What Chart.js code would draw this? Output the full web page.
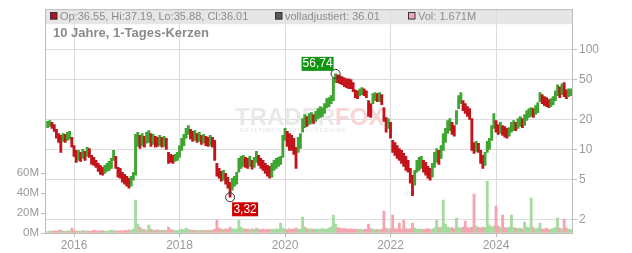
<!DOCTYPE html>
<html>
<head>
<meta charset="utf-8">
<script src="https://cdn.jsdelivr.net/npm/chart.js@4.4.1/dist/chart.umd.min.js"></script>
<style>
  html, body { margin: 0; padding: 0; background: #fff; }
</style>
</head>
<body>
<canvas id="chart" width="632" height="253"></canvas>
<script>
// half-month periods starting July 2015
const startYear = 2015.5;
const periodsPerYear = 24;

const priceHi = [
  19.0, 19.4, 18.6, 17.7, 15.8, 14.4, 13.8, 14.4, 14.1, 14.8,
  15.1, 13.2, 10.9, 9.76, 9.76, 9.33, 10.0, 9.54, 10.5, 10.2,
  8.70, 8.31, 7.76, 7.25, 6.92, 6.61, 6.92, 7.25, 7.59, 8.13,
  9.76, 8.51, 6.61, 6.46, 5.90, 5.63, 5.38, 5.14, 5.38, 5.90,
  14.1, 14.8, 13.8, 14.4, 13.5, 14.8, 15.4, 14.4, 14.1, 13.5,
  13.2, 13.8, 13.2, 13.5, 12.9, 9.33, 8.91, 8.70, 8.91, 9.33,
  10.9, 12.9, 14.1, 16.2, 17.3, 15.8, 15.1, 15.4, 14.4, 14.8,
  13.8, 14.1, 13.5, 13.2, 13.8, 13.2, 12.3, 7.25, 6.46, 6.03,
  6.17, 5.76, 5.26, 4.69, 5.14, 5.38, 5.90, 8.13, 8.51, 8.70,
  8.31, 8.13, 8.51, 7.76, 8.31, 9.54, 8.70, 8.13, 7.76, 7.25,
  6.92, 6.77, 7.25, 7.76, 8.13, 8.31, 8.51, 13.8, 16.2, 15.1,
  14.4, 13.8, 12.9, 10.5, 13.2, 14.4, 20.3, 22.3, 21.3, 22.8,
  23.3, 22.3, 23.9, 25.5, 26.7, 26.1, 28.6, 32.1, 32.8, 34.4,
  51.9, 56.74, 55.6, 54.3, 53.1, 51.9, 50.7, 50.7, 49.6, 46.3,
  39.4, 38.5, 40.3, 41.3, 40.3, 38.5, 30.6, 28.6, 36.0, 36.8,
  36.0, 36.8, 35.2, 26.1, 20.8, 20.3, 18.6, 12.3, 11.7, 10.9,
  10.2, 9.76, 9.11, 8.51, 7.76, 6.46, 5.51, 6.17, 7.76, 8.31,
  8.51, 7.76, 7.41, 6.77, 6.46, 7.25, 9.33, 10.2, 9.76, 10.9,
  14.4, 16.2, 19.4, 20.3, 18.6, 17.3, 24.4, 34.4, 36.8, 30.6,
  28.6, 26.7, 25.5, 20.3, 11.7, 12.0, 11.5, 9.76, 8.70, 9.33,
  12.0, 12.9, 17.3, 22.8, 19.4, 17.7, 18.6, 17.3, 16.9, 16.2,
  16.5, 18.6, 19.4, 18.6, 20.3, 21.3, 20.3, 22.3, 24.4, 25.5,
  26.1, 25.5, 27.3, 29.3, 36.8, 35.2, 33.6, 32.8, 31.4, 32.1,
  33.6, 38.5, 44.2, 42.2, 45.2, 46.3, 39.4, 40.3, 40.3
];

const priceLo = [
  16.5, 16.9, 16.2, 15.1, 12.9, 11.7, 9.33, 12.0, 11.7, 12.3,
  12.6, 10.5, 8.51, 7.41, 7.76, 7.59, 8.13, 7.76, 8.51, 8.31,
  7.08, 6.92, 6.61, 6.03, 5.63, 5.51, 5.76, 6.03, 6.17, 6.46,
  7.76, 6.46, 5.26, 5.14, 4.69, 4.48, 4.28, 4.09, 4.28, 4.91,
  5.51, 10.7, 10.2, 10.9, 10.5, 11.5, 11.7, 10.7, 11.2, 10.5,
  10.7, 10.9, 10.5, 10.7, 10.0, 7.25, 7.41, 7.25, 7.59, 7.76,
  8.31, 9.76, 10.9, 12.9, 14.1, 12.6, 12.0, 12.3, 11.7, 12.0,
  11.2, 11.5, 10.9, 10.7, 10.9, 10.5, 7.76, 5.38, 5.14, 4.80,
  4.91, 4.48, 4.09, 3.32, 3.91, 4.28, 4.48, 5.90, 6.46, 6.77,
  6.61, 6.46, 6.77, 6.32, 6.61, 7.41, 6.92, 6.46, 6.17, 5.76,
  5.38, 5.14, 5.26, 6.17, 6.46, 6.77, 7.08, 8.31, 12.3, 10.7,
  9.76, 9.76, 8.91, 6.46, 9.33, 10.2, 14.8, 16.5, 16.9, 17.7,
  18.1, 18.1, 19.0, 20.3, 20.8, 21.3, 22.8, 26.1, 26.7, 28.6,
  30.6, 46.3, 46.3, 45.2, 44.2, 42.2, 41.3, 40.3, 40.3, 37.7,
  32.8, 32.1, 34.4, 35.2, 34.4, 32.8, 21.3, 20.8, 28.6, 30.6,
  30.0, 30.0, 28.0, 19.0, 14.8, 16.2, 12.9, 9.33, 8.70, 8.13,
  7.76, 7.25, 6.77, 6.17, 5.90, 4.58, 3.45, 4.38, 5.90, 6.17,
  6.46, 5.90, 5.51, 5.14, 4.91, 5.26, 6.61, 7.41, 7.08, 8.13,
  9.76, 11.7, 14.4, 15.4, 14.1, 13.5, 17.7, 25.5, 28.6, 24.4,
  22.8, 21.3, 19.9, 9.76, 9.11, 9.54, 9.33, 7.25, 6.46, 6.92,
  9.33, 10.0, 12.3, 16.2, 14.8, 14.1, 14.4, 13.8, 13.2, 12.9,
  13.5, 14.8, 15.4, 15.4, 16.2, 16.9, 16.5, 17.3, 19.4, 20.8,
  21.3, 20.8, 22.3, 23.3, 30.0, 28.6, 27.3, 26.7, 26.1, 26.7,
  28.0, 30.6, 34.4, 32.8, 35.2, 33.6, 32.1, 33.6, 34.4
];

// volume in millions
const volumes = [
  1.5, 2, 1.8, 2.2, 1.6, 2.4, 3, 2, 1.7, 2.1,
  1.9, 5, 2.3, 1.8, 2, 1.6, 2.5, 1.9, 2.2, 1.7,
  2, 2.8, 1.9, 2.1, 1.8, 2.4, 2, 1.7, 2.2, 3,
  2.5, 2.1, 1.9, 2.3, 2, 2.6, 2.2, 3.1, 2.5, 4,
  33, 9, 6, 4, 3.5, 3, 8, 4, 3, 2.6,
  3.2, 2.8, 2.5, 3, 2.4, 6, 3.5, 3, 2.6, 2.4,
  3, 4, 3.2, 5, 3.6, 2.8, 2.6, 3, 2.4, 2.7,
  2.3, 2.8, 2.5, 3, 2.6, 2.9, 4, 13, 5, 4,
  3.5, 4.2, 3.6, 6, 4.5, 3.8, 4, 13, 6, 4.5,
  3.8, 4, 3.5, 4.2, 3.6, 5, 4, 3.4, 3.8, 3.2,
  4, 3.5, 3.8, 3.3, 4.2, 3.6, 10, 5, 4, 3.6,
  4.2, 3.6, 4, 5, 3.8, 4, 16, 6, 4.5, 3.8,
  4.2, 3.6, 4, 3.5, 3.8, 4.5, 3.6, 4, 5, 6,
  18, 9, 5.5, 4.8, 4.2, 4.6, 4, 3.8, 4.2, 3.6,
  4, 3.4, 3.8, 3.2, 3.6, 4, 9, 4.5, 3.8, 3.4,
  3.6, 3.2, 4, 22, 5, 4, 4.5, 18, 4.5, 4,
  10, 4, 13, 4.5, 3.8, 4.5, 10, 5, 4, 3.6,
  4, 3.4, 3.8, 4.5, 3.5, 4, 5, 13, 5.5, 6,
  33, 9, 6, 4.8, 5.5, 4.5, 15, 5.5, 5, 6,
  12, 5.5, 5, 6, 39, 7, 5.5, 5, 6, 5.5,
  52, 8, 6, 7, 27, 7, 5.5, 18, 5.5, 5,
  6, 18, 5.5, 5, 4.5, 5, 4, 11, 6, 5.5,
  35, 5.5, 4, 5, 10, 4, 3.8, 5, 3.5, 4,
  4.5, 5.5, 15, 5, 4, 14, 5, 4, 3.5
];

const yearTicks = [2016, 2018, 2020, 2022, 2024];
const priceTicks = [2, 5, 10, 20, 50, 100];
const volTicks = [0, 20, 40, 60];

const FONT = '"Liberation Sans", Arial, sans-serif';
const cUp = '#3ea531';
const cDown = '#c3141b';
const cVolUp = '#a6dba0';
const cVolDown = '#f3a6ae';
const cGrid = '#dcdcdc';
const cAxis = '#bdbdbd';
const cTick = '#9a9a9a';

const xs = priceHi.map((_, i) => startYear + i / periodsPerYear);
const mids = priceHi.map((h, i) => Math.sqrt(h * priceLo[i]));
const up = mids.map((m, i) => i === 0 || m >= mids[i - 1]);

Chart.defaults.font.family = FONT;

const fmt = v => v.toFixed(2).replace('.', ',');

const frame = {
	id: 'frame',
	beforeDraw(chart) {
		const { ctx, chartArea: a } = chart;
		ctx.save();
		ctx.fillStyle = '#fff';
		ctx.fillRect(0, 0, chart.width, chart.height);
		ctx.fillStyle = '#e6e6e6';
		ctx.fillRect(a.left, a.top, a.right - a.left, 15);
		ctx.restore();
	},
	beforeDatasetsDraw(chart) {
		// faint watermark
		const { ctx } = chart;
		ctx.save();
		ctx.font = 'bold 24px ' + FONT;
		ctx.textBaseline = 'alphabetic';
		ctx.fillStyle = '#e9e9e9';
		ctx.fillText('TRADER', 235, 125);
		const w = ctx.measureText('TRADER').width;
		ctx.fillStyle = '#f9d6d6';
		ctx.fillText('FOX', 235 + w, 125);
		ctx.font = 'bold 5.5px ' + FONT;
		ctx.letterSpacing = '1px';
		ctx.fillStyle = '#ececec';
		ctx.fillText('REALTIME STOCK SCREENING', 240, 132);
		ctx.restore();
	},
	afterDraw(chart) {
		const { ctx, chartArea: a, scales } = chart;
		ctx.save();
		ctx.strokeStyle = cAxis;
		ctx.lineWidth = 1;
		ctx.beginPath();
		ctx.moveTo(a.left, a.top + 0.5);
		ctx.lineTo(a.right, a.top + 0.5);
		ctx.stroke();

		// header line
		ctx.font = '11px ' + FONT;
		ctx.textBaseline = 'middle';
		const items = [
			{ x: 50, fill: '#b5121b', text: 'Op:36.55, Hi:37.19, Lo:35.88, Cl:36.01' },
			{ x: 275, fill: '#5a5a5a', text: 'volladjustiert: 36.01' },
			{ x: 408, fill: '#f2a7b0', text: 'Vol: 1.671M' }
		];
		items.forEach(it => {
			ctx.fillStyle = it.fill;
			ctx.fillRect(it.x, 12.5, 7, 7);
			ctx.strokeStyle = '#333';
			ctx.strokeRect(it.x + 0.5, 12.5, 6.5, 6.5);
			ctx.fillStyle = '#8c8c8c';
			ctx.fillText(it.text, it.x + 10, 16.5);
		});

		ctx.font = 'bold 13px ' + FONT;
		ctx.fillStyle = '#8a8a8a';
		ctx.fillText('10 Jahre, 1-Tages-Kerzen', 53, 33.5);

		// high / low markers
		const iMax = priceHi.indexOf(Math.max(...priceHi));
		const iMin = priceLo.indexOf(Math.min(...priceLo));
		const hx = scales.x.getPixelForValue(xs[iMax]);
		const hy = scales.y.getPixelForValue(priceHi[iMax]);
		const lx = scales.x.getPixelForValue(xs[iMin]);
		const ly = scales.y.getPixelForValue(priceLo[iMin]);

		ctx.strokeStyle = '#333';
		ctx.lineWidth = 1;
		ctx.beginPath(); ctx.arc(hx, hy, 4.5, 0, 2 * Math.PI); ctx.stroke();
		ctx.beginPath(); ctx.arc(lx, ly, 4.5, 0, 2 * Math.PI); ctx.stroke();

		ctx.font = '12px ' + FONT;
		ctx.textAlign = 'center';
		ctx.fillStyle = '#109410';
		ctx.fillRect(hx - 34, hy - 17, 32, 14);
		ctx.fillStyle = '#fff';
		ctx.fillText(fmt(priceHi[iMax]), hx - 18, hy - 10);

		ctx.fillStyle = '#d10000';
		ctx.fillRect(lx + 2, ly + 5, 26, 14);
		ctx.fillStyle = '#fff';
		ctx.fillText(fmt(priceLo[iMin]), lx + 15, ly + 12);
		ctx.restore();
	}
};

new Chart(document.getElementById('chart'), {
	type: 'bar',
	data: {
		datasets: [
			{
				data: xs.map((x, i) => ({ x, y: [priceLo[i], priceHi[i]] })),
				yAxisID: 'y',
				backgroundColor: up.map(u => u ? cUp : cDown),
				borderWidth: 0,
				barPercentage: 1,
				categoryPercentage: 1,
				grouped: false,
				order: 1
			},
			{
				data: xs.map((x, i) => ({ x, y: volumes[i] })),
				yAxisID: 'yv',
				backgroundColor: up.map(u => u ? cVolUp : cVolDown),
				borderWidth: 0,
				barPercentage: 1,
				categoryPercentage: 1,
				grouped: false,
				order: 2
			}
		]
	},
	options: {
		responsive: false,
		animation: false,
		devicePixelRatio: 1,
		layout: { padding: { top: 8, left: 0, right: 0, bottom: 0 } },
		plugins: { legend: { display: false }, tooltip: { enabled: false } },
		scales: {
			x: {
				type: 'linear',
				position: 'bottom',
				min: 2015.45,
				max: 2025.44,
				offset: false,
				afterBuildTicks: s => { s.ticks = yearTicks.map(v => ({ value: v })); },
				afterFit: s => { s.height = 20; },
				grid: { color: cGrid, offset: false, tickLength: 4, tickColor: cAxis },
				border: { color: cAxis },
				ticks: { color: cTick, font: { size: 12 }, padding: 1, maxRotation: 0, autoSkip: false, callback: v => String(v) }
			},
			y: {
				type: 'logarithmic',
				position: 'right',
				min: 1.46,
				max: 251,
				afterBuildTicks: s => { s.ticks = priceTicks.map(v => ({ value: v })); },
				afterFit: s => { s.width = 60; },
				grid: { color: cGrid, tickLength: 5, tickColor: cAxis },
				border: { color: cAxis },
				ticks: { color: cTick, font: { size: 12 }, padding: 2, callback: v => String(v) }
			},
			yv: {
				type: 'linear',
				position: 'left',
				min: 0,
				max: 224,
				afterBuildTicks: s => { s.ticks = volTicks.map(v => ({ value: v })); },
				afterFit: s => { s.width = 45; },
				grid: { drawOnChartArea: false, tickLength: 4, tickColor: cAxis },
				border: { color: cAxis },
				ticks: { color: cTick, font: { size: 11.5 }, padding: 2, callback: v => v + 'M' }
			}
		}
	},
	plugins: [frame]
});
</script>
</body>
</html>
